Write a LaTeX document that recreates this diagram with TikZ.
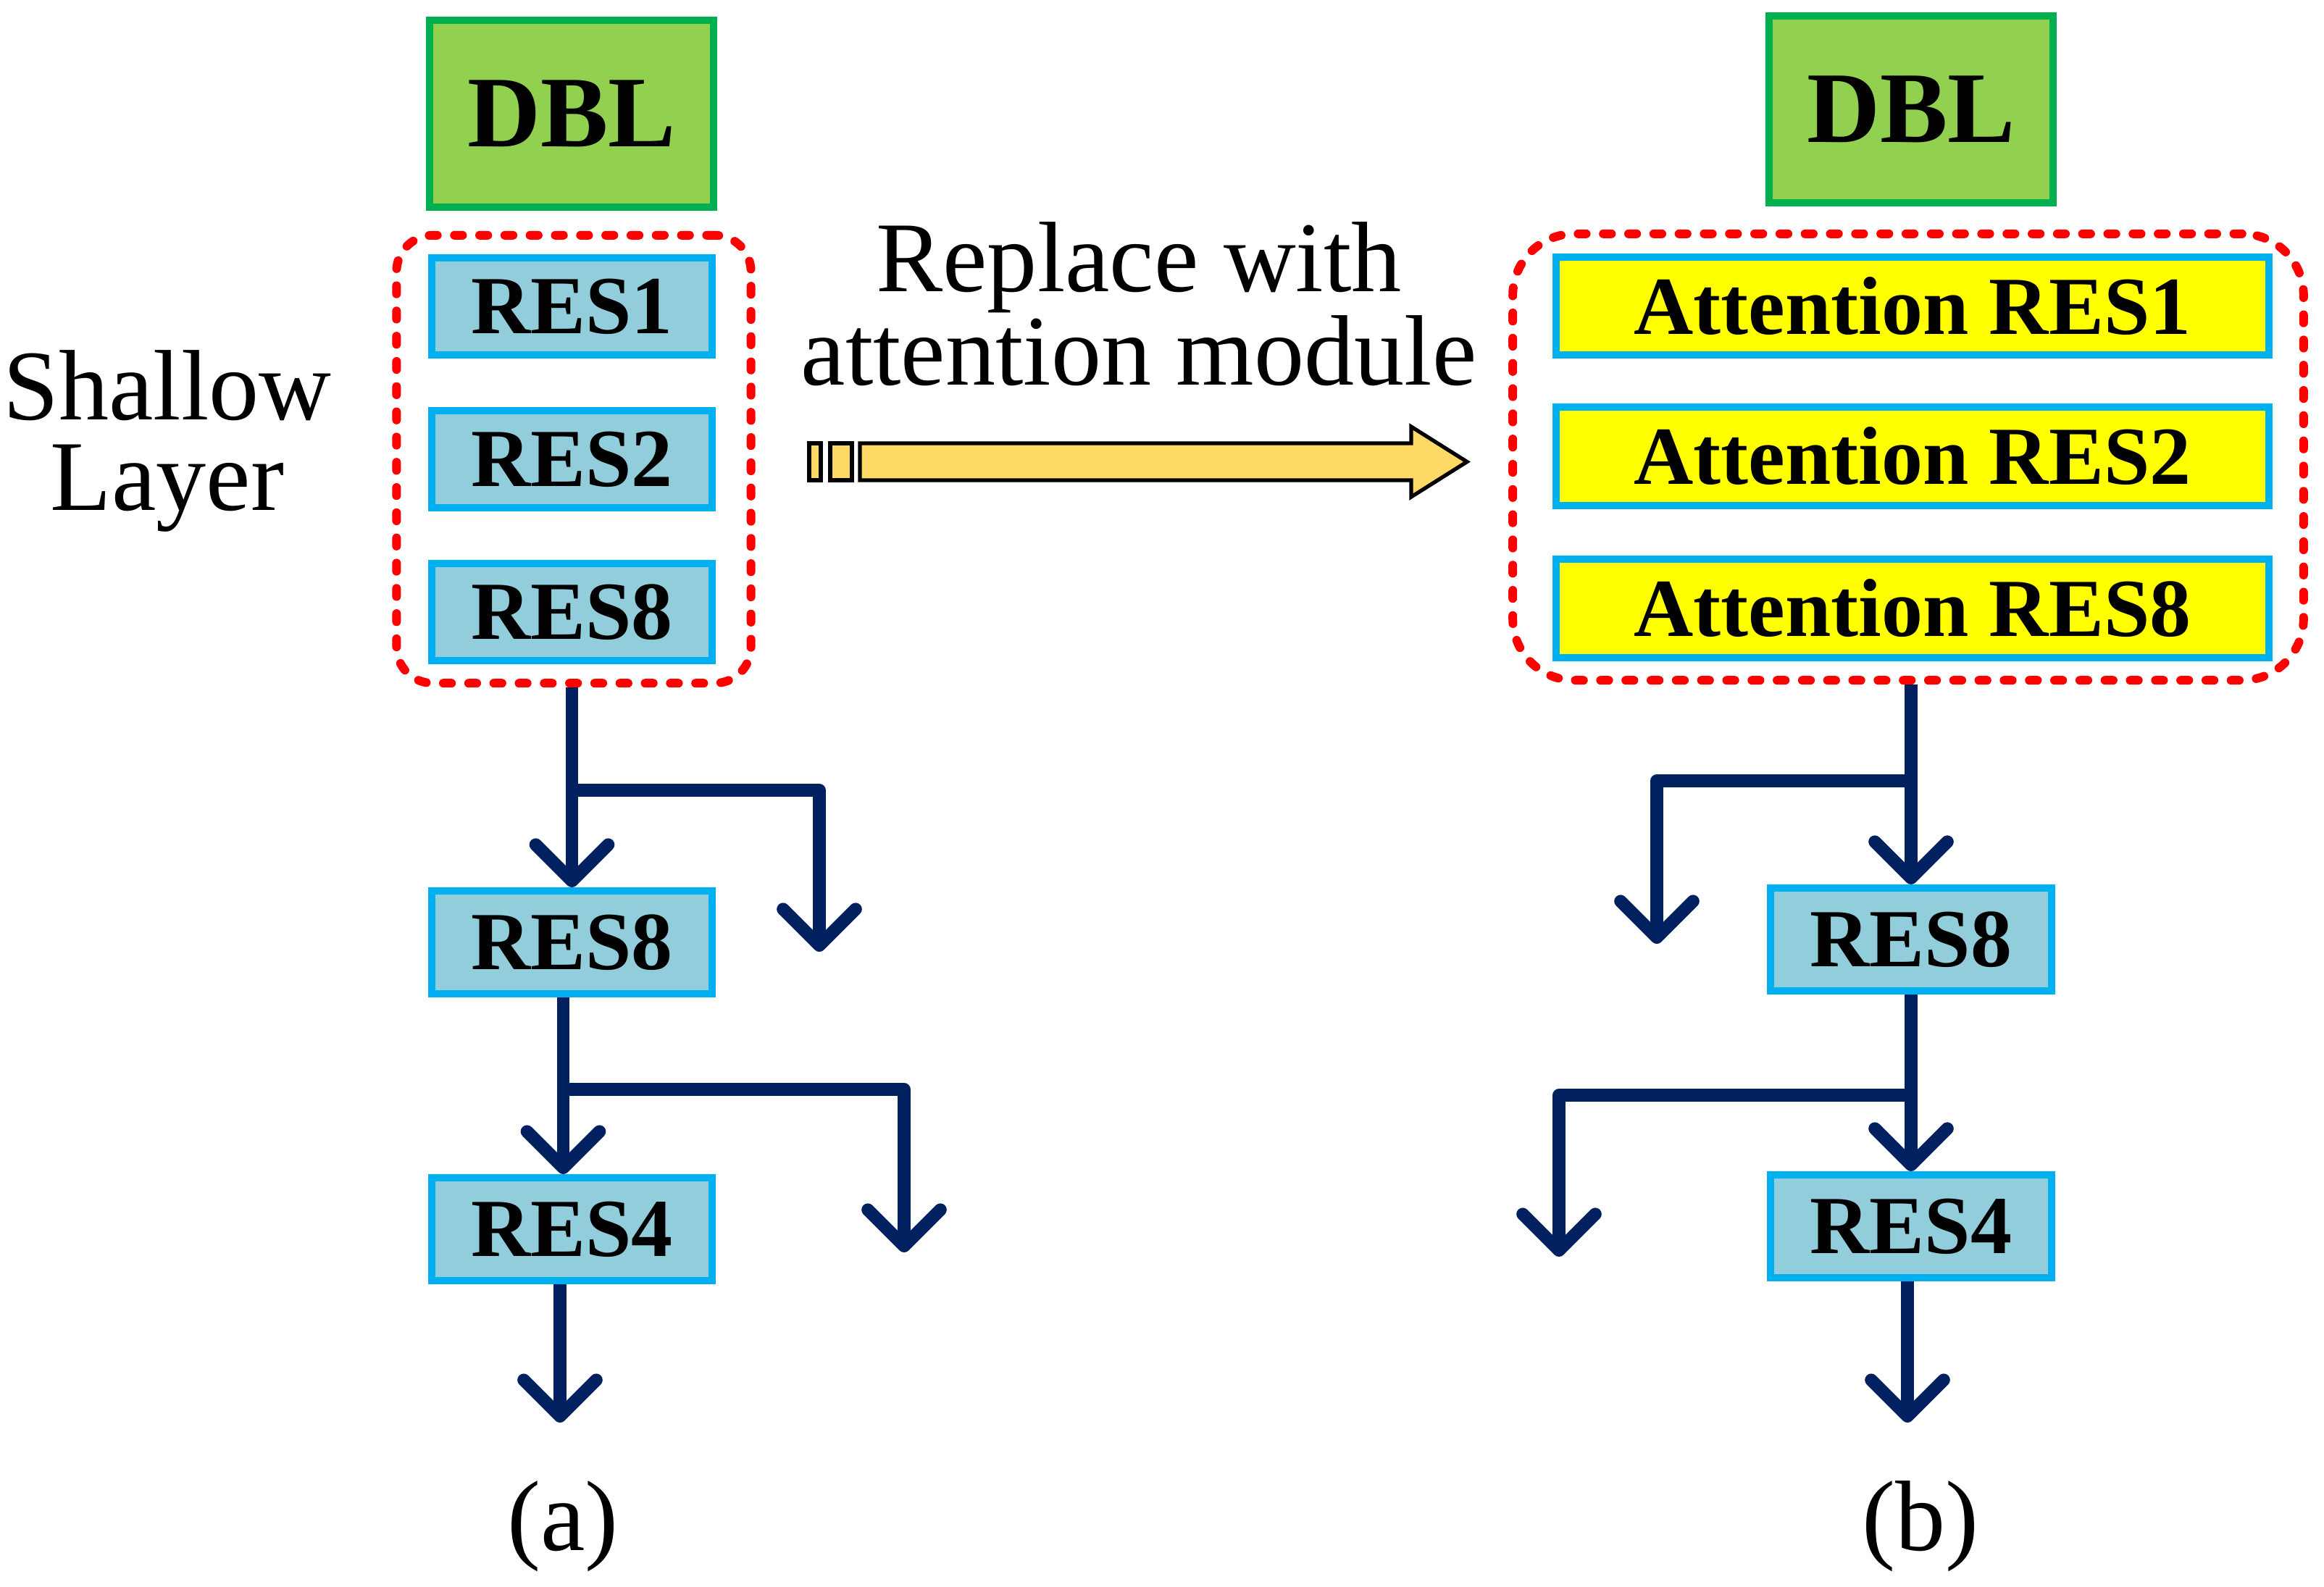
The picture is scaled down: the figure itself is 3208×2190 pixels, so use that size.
\documentclass[tikz,border=0pt]{standalone}
\usepackage{fontspec}
\setmainfont{Liberation Serif}
\usetikzlibrary{arrows.meta,calc}
\definecolor{dblfill}{HTML}{92D050}
\definecolor{dbldraw}{HTML}{00B050}
\definecolor{resfill}{HTML}{92CDDC}
\definecolor{resdraw}{HTML}{00B0F0}
\definecolor{attfill}{HTML}{FFFF00}
\definecolor{navyline}{HTML}{002060}
\definecolor{arrowfill}{HTML}{FFD966}
\definecolor{redline}{HTML}{FF0000}
\begin{document}
\begin{tikzpicture}[x=0.01cm,y=-0.01cm,
  dblbox/.style={draw=dbldraw,fill=dblfill,line width=2.85pt,minimum width=3.92cm,minimum height=2.58cm,inner sep=0pt,font=\fontsize{39.8}{44}\selectfont\bfseries},
  resbox/.style={draw=resdraw,fill=resfill,line width=2.85pt,minimum width=3.87cm,minimum height=1.34cm,inner sep=0pt,font=\fontsize{32.4}{36}\selectfont\bfseries},
  lowbox/.style={resbox,minimum height=1.42cm},
  attbox/.style={resbox,fill=attfill,minimum width=9.83cm,minimum height=1.35cm},
  dashbox/.style={draw=redline,line width=3.4pt,dash pattern=on 3.2pt off 6.7pt,line cap=round,inner sep=0pt},
  conn/.style={draw=navyline,line width=5pt,line join=round,-{Straight Barb[length=0.5cm,width=1.0cm,round]}},
  lbl/.style={align=center,inner sep=0pt,font=\fontsize{39.3}{35.6}\selectfont},
  bigarrow/.style={draw=black,fill=arrowfill,line width=1.5pt,line join=miter}
]
\useasboundingbox (0,0) rectangle (3208,2190);

% left column
\node[dblbox] (dblL) at (789,157) {DBL};
\node[dashbox,rounded corners=0.5cm,minimum width=4.89cm,minimum height=6.18cm] (dashL) at (792,634) {};
\node[resbox] (res1L) at (789.5,423) {RES1};
\node[resbox] (res2L) at (789.5,634) {RES2};
\node[resbox] (res8L) at (789.5,845) {RES8};
\node[lowbox] (res8Lb) at (789.5,1301) {RES8};
\node[lowbox] (res4L) at (789.5,1697) {RES4};

% right column
\node[dblbox] (dblR) at (2638,151) {DBL};
\node[dashbox,rounded corners=0.85cm,minimum width=10.91cm,minimum height=6.16cm] (dashR) at (2634,631) {};
\node[attbox] (att1) at (2640,422.5) {Attention RES1};
\node[attbox] (att2) at (2640,630) {Attention RES2};
\node[attbox] (att8) at (2640,840) {Attention RES8};
\node[lowbox] (res8R) at (2638,1297) {RES8};
\node[lowbox] (res4R) at (2638,1693) {RES4};

% labels
\node[lbl] (shallow) at (231,609) {Shallow\\Layer};
\node[lbl] (replace) at (1572,420) {Replace with\\attention module};
\node[lbl] (capa) at (777,2107) {(a)};
\node[lbl] (capb) at (2651,2107) {(b)};

% big arrow
\draw[bigarrow] (1117,612) rectangle (1133,663);
\draw[bigarrow] (1146,612) rectangle (1176,663);
\draw[bigarrow] (1187,612) -- (1948,612) -- (1948,589) -- (2025,637.5) -- (1948,686) -- (1948,663) -- (1187,663) -- cycle;

% connectors left
\coordinate (jL1) at (789.5,1091);
\coordinate (eL1) at (1131,1314);
\coordinate (jL2) at (777,1504);
\coordinate (eL2) at (1248,1729);
\coordinate (eL3) at (773,1964);
\draw[conn] (dashL.south -| res8Lb.north) -- (res8Lb.north);
\draw[conn] (jL1) -| (eL1);
\draw[conn] ([xshift=-0.12cm]res8Lb.south) -- ([xshift=-0.12cm]res4L.north);
\draw[conn] (jL2) -| (eL2);
\draw[conn] (res4L.south -| eL3) -- (eL3);

% connectors right
\coordinate (jR1) at (2638,1078);
\coordinate (eR1) at (2287,1303);
\coordinate (jR2) at (2638,1512);
\coordinate (eR2) at (2152,1735);
\coordinate (eR3) at (2633,1964);
\draw[conn] (dashR.south -| res8R.north) -- (res8R.north);
\draw[conn] (jR1) -| (eR1);
\draw[conn] (res8R.south) -- (res4R.north);
\draw[conn] (jR2) -| (eR2);
\draw[conn] (res4R.south -| eR3) -- (eR3);
\end{tikzpicture}
\end{document}
